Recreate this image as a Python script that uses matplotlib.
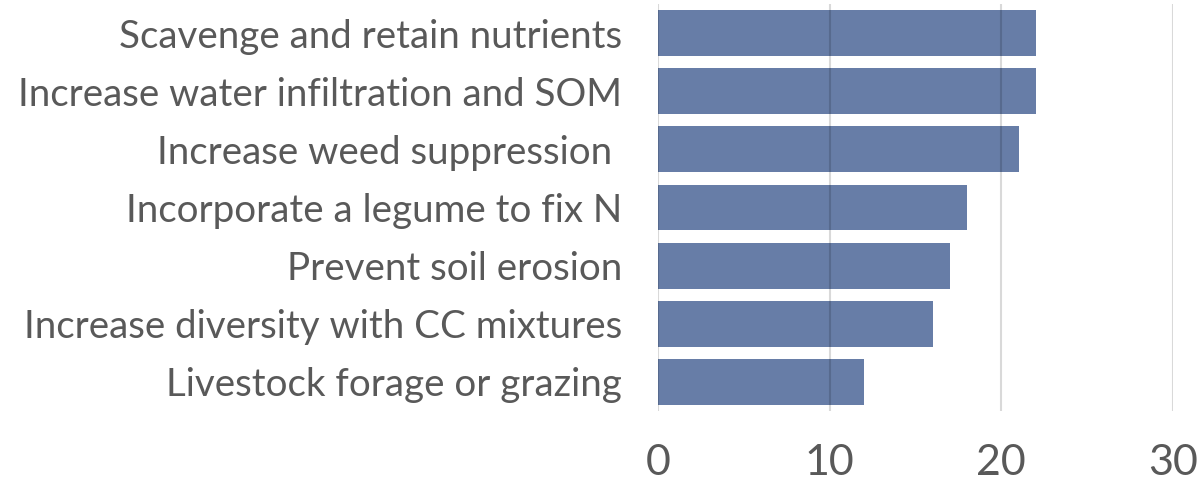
import matplotlib
matplotlib.use("Agg")
import matplotlib.pyplot as plt

categories = [
    "Scavenge and retain nutrients",
    "Increase water infiltration and SOM",
    "Increase weed suppression ",
    "Incorporate a legume to fix N",
    "Prevent soil erosion",
    "Increase diversity with CC mixtures",
    "Livestock forage or grazing",
]
values = [22, 22, 21, 18, 17, 16, 12]
xticks = [0, 10, 20, 30]

plt.rcParams['font.family'] = ['Lato', 'DejaVu Sans']

fig = plt.figure(figsize=(12.04, 4.88), dpi=100)
ax = fig.add_axes([658/1204, 1 - 411/488, (1173-658)/1204, (411-4)/488])

ypos = list(range(len(categories)))
ax.barh(ypos, values, height=0.79, color="#5A72A0", alpha=0.92, zorder=2)
ax.set_ylim(len(categories) - 0.5, -0.5)
ax.set_xlim(0, 30)
ax.set_xticks(xticks)
ax.set_xticklabels([str(t) for t in xticks])
ax.set_yticks(ypos)
ax.set_yticklabels(categories)
ax.grid(axis='x', color="black", alpha=0.15, linewidth=1.5, zorder=3)
ax.grid(axis='y', visible=False)
ax.set_axisbelow(False)
for s in ax.spines.values():
    s.set_visible(False)
ax.tick_params(axis='y', length=0, pad=26, labelsize=27.7, labelcolor="#595959")
ax.tick_params(axis='x', length=0, pad=24, labelsize=31, labelcolor="#595959")

fig.savefig("out.png", dpi=100)
